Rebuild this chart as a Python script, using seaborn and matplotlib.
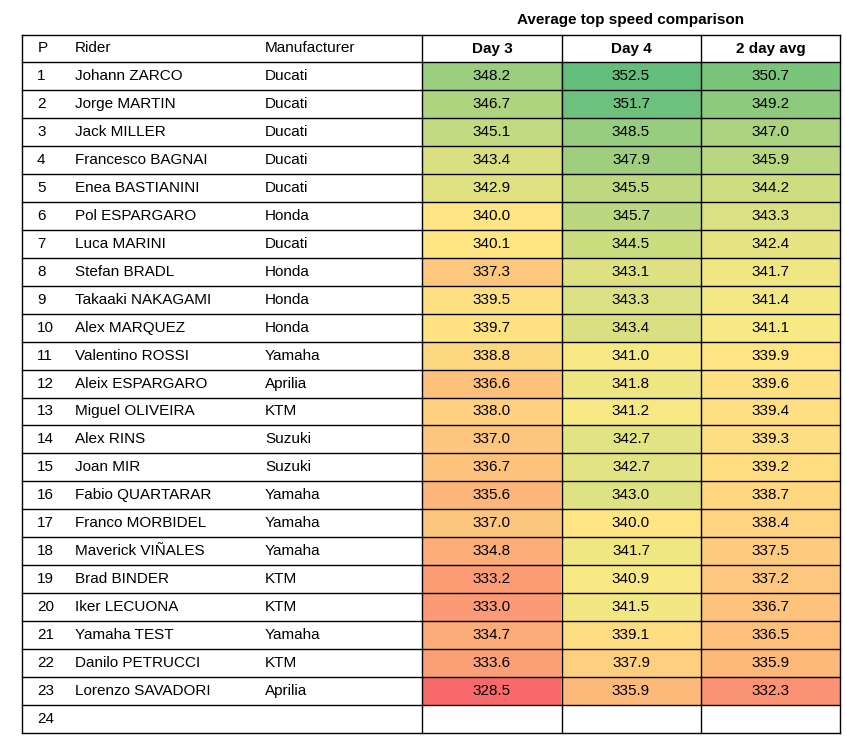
import numpy as np
import matplotlib
matplotlib.use("Agg")
import matplotlib.pyplot as plt
from matplotlib.colors import LinearSegmentedColormap, TwoSlopeNorm
import seaborn as sns

positions = list(range(1, 25))
riders = ["Johann ZARCO","Jorge MARTIN","Jack MILLER","Francesco BAGNAI","Enea BASTIANINI",
          "Pol ESPARGARO","Luca MARINI","Stefan BRADL","Takaaki NAKAGAMI","Alex MARQUEZ",
          "Valentino ROSSI","Aleix ESPARGARO","Miguel OLIVEIRA","Alex RINS","Joan MIR",
          "Fabio QUARTARAR","Franco MORBIDEL","Maverick VIÑALES","Brad BINDER","Iker LECUONA",
          "Yamaha TEST","Danilo PETRUCCI","Lorenzo SAVADORI",""]
manufacturers = ["Ducati","Ducati","Ducati","Ducati","Ducati","Honda","Ducati","Honda","Honda","Honda",
                 "Yamaha","Aprilia","KTM","Suzuki","Suzuki","Yamaha","Yamaha","Yamaha","KTM","KTM",
                 "Yamaha","KTM","Aprilia",""]
day3 = [348.2,346.7,345.1,343.4,342.9,340.0,340.1,337.3,339.5,339.7,338.8,336.6,338.0,337.0,336.7,
        335.6,337.0,334.8,333.2,333.0,334.7,333.6,328.5,np.nan]
day4 = [352.5,351.7,348.5,347.9,345.5,345.7,344.5,343.1,343.3,343.4,341.0,341.8,341.2,342.7,342.7,
        343.0,340.0,341.7,340.9,341.5,339.1,337.9,335.9,np.nan]
avg2 = [350.7,349.2,347.0,345.9,344.2,343.3,342.4,341.7,341.4,341.1,339.9,339.6,339.4,339.3,339.2,
        338.7,338.4,337.5,337.2,336.7,336.5,335.9,332.3,np.nan]
col_labels = ["Day 3","Day 4","2 day avg"]

vals = np.array([day3, day4, avg2]).T
annot = np.array([["" if np.isnan(x) else f"{x:.1f}" for x in r] for r in vals])
lo, hi = np.nanmin(vals), np.nanmax(vals)
norm = TwoSlopeNorm(vmin=lo, vcenter=(lo+hi)/2, vmax=hi)

cmap = LinearSegmentedColormap.from_list("rg", ["#F8696B", "#FFEB84", "#63BE7B"])
cmap.set_bad("white")

W, H = 846, 740
fig = plt.figure(figsize=(8.46, 7.40), dpi=100)
font = "Liberation Sans"
fs = 11

x0, xs = 22, [22, 63, 258, 422, 562, 701, 840]
ytop, yh, rh = 35, 62, (733-62)/24
ybot = yh + 24*rh

hax = fig.add_axes([422/W, 1-ybot/H, (840-422)/W, (ybot-yh)/H])
sns.heatmap(vals, ax=hax, cmap=cmap, norm=norm, cbar=False, annot=annot, fmt="",
            annot_kws={"fontsize": fs, "family": font, "color": "black"},
            linewidths=0, xticklabels=False, yticklabels=False)
hax.set_xlabel(""); hax.set_ylabel("")
for s in hax.spines.values():
    s.set_visible(False)

bg = fig.add_axes([0, 0, 1, 1])
bg.set_xlim(0, W); bg.set_ylim(H, 0); bg.axis("off")
bg.patch.set_alpha(0)

lw = 1
for i in range(25):
    y = yh + i*rh
    bg.plot([x0, 840], [y, y], color="black", lw=lw)
bg.plot([x0, 840], [ytop, ytop], color="black", lw=lw)
for x in [22, 422, 562, 701, 840]:
    bg.plot([x, x], [ytop, ybot], color="black", lw=lw)

bg.text(631, 20, "Average top speed comparison", ha="center", va="center",
        fontsize=fs, fontweight="bold", family=font)
hy = (ytop+yh)/2
bg.text(43, hy, "P", ha="center", va="center", fontsize=fs, family=font)
bg.text(75, hy, "Rider", ha="left", va="center", fontsize=fs, family=font)
bg.text(265, hy, "Manufacturer", ha="left", va="center", fontsize=fs, family=font)
for lab, a, b in zip(col_labels, xs[3:6], xs[4:7]):
    bg.text((a+b)/2, hy, lab, ha="center", va="center", fontsize=fs, fontweight="bold", family=font)

for i in range(24):
    y = yh + (i+0.5)*rh
    bg.text(37, y, str(positions[i]), ha="left", va="center", fontsize=fs, family=font)
    bg.text(75, y, riders[i], ha="left", va="center", fontsize=fs, family=font)
    bg.text(265, y, manufacturers[i], ha="left", va="center", fontsize=fs, family=font)

fig.savefig("out.png", dpi=100)
